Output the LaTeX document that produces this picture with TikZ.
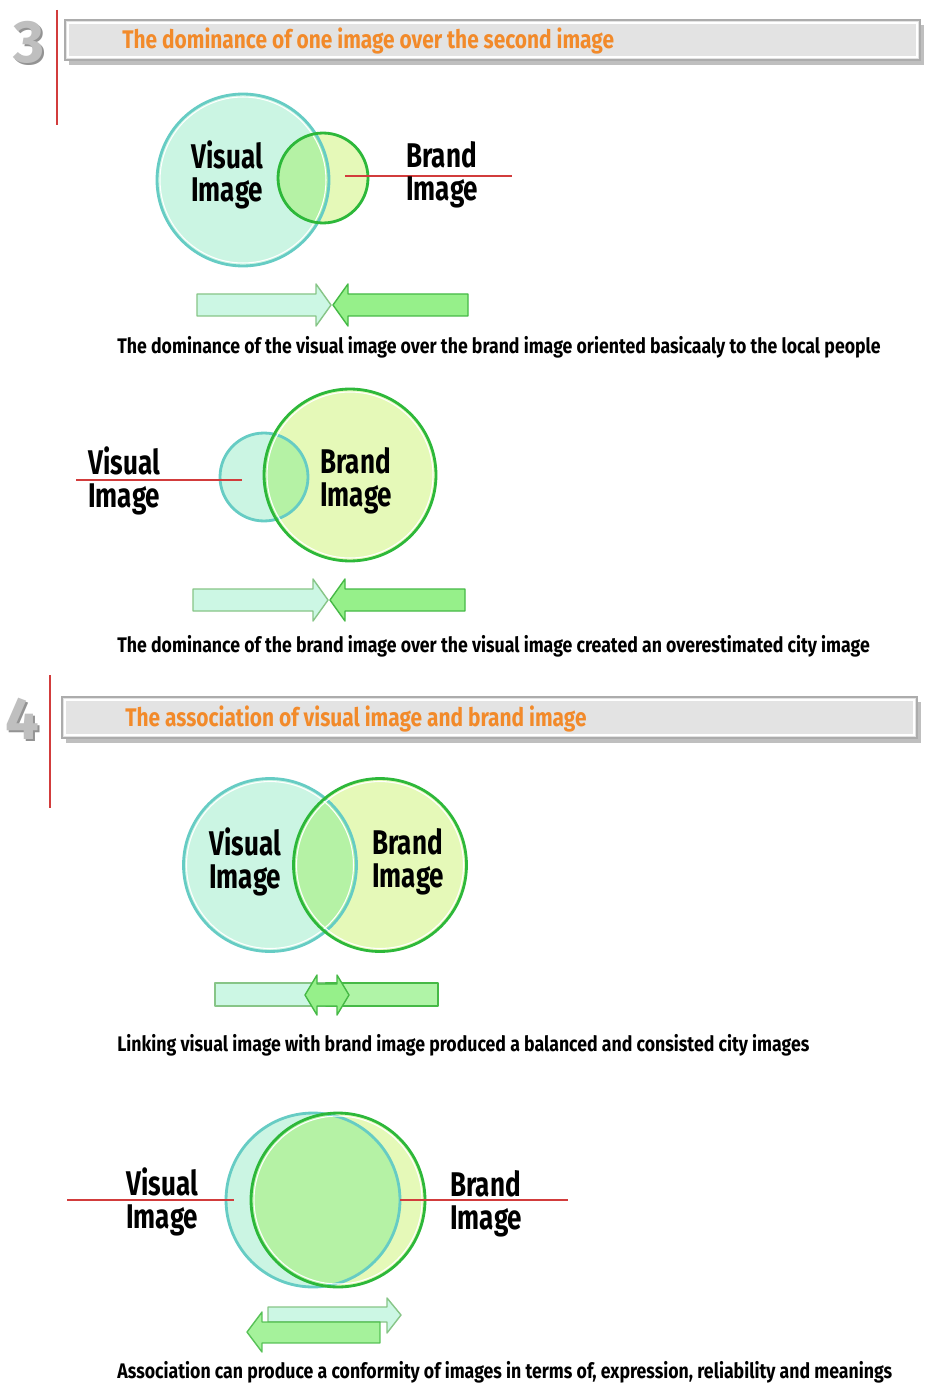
\documentclass[tikz,border=0pt]{standalone}
\usepackage{fontspec}
\setmainfont{Fira Sans}[FakeStretch=0.76]
\newfontfamily\capfont{Fira Sans}[FakeStretch=0.84]
\newfontfamily\headfont{Fira Sans}[FakeStretch=0.82]
\newfontfamily\numfont{Fira Sans}
\definecolor{visfill}{HTML}{CBF5E3}
\definecolor{visline}{HTML}{66CCC4}
\definecolor{brfill}{HTML}{E5F9B8}
\definecolor{brline}{HTML}{2DB83A}
\definecolor{bothfill}{HTML}{B5F2A5}
\definecolor{arrmint}{HTML}{CCF7E4}
\definecolor{arrgreen}{HTML}{96F08A}
\definecolor{leadred}{HTML}{D23C3C}
\definecolor{headorange}{HTML}{F28A2A}
\tikzset{
  vis/.style={fill=visfill},
  br/.style={fill=brfill},
  both/.style={fill=bothfill},
  visring/.style={draw=visline, line width=1.6pt},
  brring/.style={draw=brline, line width=1.6pt},
  inring/.style={draw=white, line width=0.6pt},
  lead/.style={draw=leadred, line width=1pt},
  label/.style={font=\bfseries\fontsize{19.5}{19}\selectfont, align=left, anchor=west, inner sep=0pt},
  caption/.style={font=\capfont\bfseries\fontsize{12}{13}\selectfont, anchor=west, inner sep=0pt},
  headtext/.style={font=\headfont\bfseries\fontsize{14.5}{15}\selectfont, text=headorange, anchor=west, inner sep=0pt},
  number/.style={font=\numfont\bfseries\fontsize{34}{34}\selectfont, text=gray!50, inner sep=0pt},
  bar/.style={fill=gray!22, draw=gray!65, line width=1.4pt},
  barshadow/.style={fill=gray!50},
  mintarrow/.style={fill=arrmint, draw=green!35!gray!70, line width=0.8pt, line join=round},
  greenarrow/.style={fill=arrgreen, draw=green!45!gray, line width=0.8pt, line join=round}
}
\begin{document}
\begin{tikzpicture}[x=0.02cm, y=-0.02cm]
\useasboundingbox[fill=white] (0,0) rectangle (930,1385);

% section 3 heading
\draw[leadred, line width=1.2pt] (57,10) -- (57,125);
\node[number, text=gray!85] at (31,44) {3};
\node[number] (n3) at (29,42) {3};
\fill[barshadow] (69,25) rectangle (924,65);
\draw[bar] (65,20) rectangle (920,60);
\draw[white, line width=0.6pt] (68,23) rectangle (917,57);
\node[headtext] (h3) at (122,41) {The dominance of one image over the second image};

% visual image over brand image
\coordinate (v1) at (243,180);
\coordinate (b1) at (323,178);
\fill[vis] (v1) circle[radius=1.72cm];
\fill[br] (b1) circle[radius=0.9cm];
\begin{scope}
  \clip (v1) circle[radius=1.72cm];
  \fill[both] (b1) circle[radius=0.9cm];
\end{scope}
\draw[visring] (v1) circle[radius=1.72cm];
\draw[inring] (v1) circle[radius=1.66cm];
\draw[brring] (b1) circle[radius=0.9cm];
\coordinate (l1a) at (345,176);
\coordinate (l1b) at (512,176);
\draw[lead] (l1a) -- (l1b);
\node[label] (t1v) at (191,175) {Visual\\Image};
\node[label] (t1b) at (406,175) {Brand\\Image};
\draw[mintarrow] (197,294) -- (316,294) -- (316,284) -- (331,305) -- (316,326) -- (316,316) -- (197,316) -- cycle;
\draw[greenarrow] (468,294) -- (348,294) -- (348,284) -- (333,305) -- (348,326) -- (348,316) -- (468,316) -- cycle;
\node[caption] (c1) at (117,347) {The dominance of the visual image over the brand image oriented basicaaly to the local people};

% brand image over visual image
\coordinate (v2) at (264,477);
\coordinate (b2) at (350,475);
\fill[br] (b2) circle[radius=1.72cm];
\fill[vis] (v2) circle[radius=0.88cm];
\begin{scope}
  \clip (b2) circle[radius=1.72cm];
  \fill[both] (v2) circle[radius=0.88cm];
\end{scope}
\draw[visring] (v2) circle[radius=0.88cm];
\draw[brring] (b2) circle[radius=1.72cm];
\draw[inring] (b2) circle[radius=1.66cm];
\coordinate (l2a) at (76,480);
\coordinate (l2b) at (242,480);
\draw[lead] (l2a) -- (l2b);
\node[label] (t2v) at (88,481) {Visual\\Image};
\node[label] (t2b) at (320,481) {Brand\\Image};
\draw[mintarrow] (193,589) -- (313,589) -- (313,579) -- (328,600) -- (313,621) -- (313,611) -- (193,611) -- cycle;
\draw[greenarrow] (465,589) -- (345,589) -- (345,579) -- (330,600) -- (345,621) -- (345,611) -- (465,611) -- cycle;
\node[caption] (c2) at (117,646) {The dominance of the brand image over the visual image created an overestimated city image};

% section 4 heading
\draw[leadred, line width=1.2pt] (50,675) -- (50,808);
\node[number, text=gray!85] at (24,721) {4};
\node[number] (n4) at (22,719) {4};
\fill[barshadow] (66,702) rectangle (921,743);
\draw[bar] (62,697) rectangle (917,738);
\draw[white, line width=0.6pt] (65,700) rectangle (914,735);
\node[headtext] (h4) at (125,719) {The association of visual image and brand image};

% linked images
\coordinate (v3) at (270,865);
\coordinate (b3) at (380,865);
\fill[vis] (v3) circle[radius=1.73cm];
\fill[br] (b3) circle[radius=1.73cm];
\begin{scope}
  \clip (v3) circle[radius=1.73cm];
  \fill[both] (b3) circle[radius=1.73cm];
\end{scope}
\draw[visring] (v3) circle[radius=1.73cm];
\draw[inring] (v3) circle[radius=1.67cm];
\draw[brring] (b3) circle[radius=1.73cm];
\draw[inring] (b3) circle[radius=1.67cm];
\node[label] (t3v) at (209,862) {Visual\\Image};
\node[label] (t3b) at (372,862) {Brand\\Image};
\draw[mintarrow] (215,983) rectangle (326,1006);
\draw[greenarrow, fill=arrgreen!75!white] (326,983) rectangle (438,1006);
\draw[greenarrow] (305,995) -- (317,975) -- (317,984) -- (337,984) -- (337,975) -- (349,995) -- (337,1015) -- (337,1006) -- (317,1006) -- (317,1015) -- cycle;
\node[caption] (c3) at (117,1045) {Linking visual image with brand image produced a balanced and consisted city images};

% conformity of images
\coordinate (v4) at (313,1200);
\coordinate (b4) at (338,1200);
\fill[br] (b4) circle[radius=1.74cm];
\fill[vis] (v4) circle[radius=1.74cm];
\begin{scope}
  \clip (v4) circle[radius=1.74cm];
  \fill[both] (b4) circle[radius=1.74cm];
\end{scope}
\draw[visring] (v4) circle[radius=1.74cm];
\draw[brring] (b4) circle[radius=1.74cm];
\draw[inring] (b4) circle[radius=1.68cm];
\coordinate (l4a) at (67,1200);
\coordinate (l4b) at (234,1200);
\coordinate (l4c) at (400,1200);
\coordinate (l4d) at (568,1200);
\draw[lead] (l4a) -- (l4b);
\draw[lead] (l4c) -- (l4d);
\node[label] (t4v) at (126,1202) {Visual\\Image};
\node[label] (t4b) at (450,1204) {Brand\\Image};
\draw[mintarrow] (268,1307) -- (387,1307) -- (387,1298) -- (401,1315) -- (387,1333) -- (387,1322) -- (268,1322) -- cycle;
\draw[greenarrow, opacity=0.85] (380,1322) -- (262,1322) -- (262,1312) -- (247,1332) -- (262,1352) -- (262,1343) -- (380,1343) -- cycle;
\node[caption] (c4) at (117,1372) {Association can produce a conformity of images in terms of, expression, reliability and meanings};
\end{tikzpicture}
\end{document}
